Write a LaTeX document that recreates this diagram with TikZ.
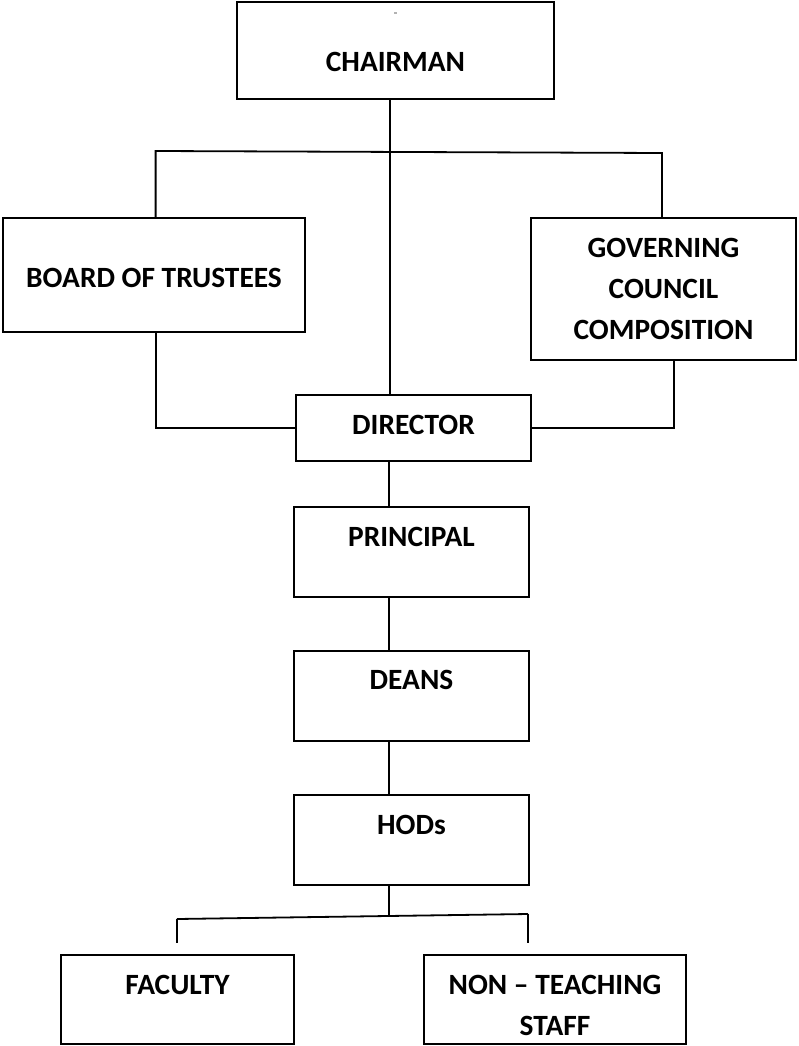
\documentclass[tikz,border=0pt]{standalone}
\usepackage{fontspec}
\setmainfont{Carlito}
\usetikzlibrary{calc}
\tikzset{
  box/.style={draw=black, line width=2.2pt, rectangle, inner sep=0pt, align=center,
    font=\fontsize{29.4}{41}\selectfont\bfseries},
  textplace/.style 2 args={text height=#1, text depth=#2},
  link/.style={draw=black, line width=1.8pt}
}
\begin{document}
\begin{tikzpicture}[x=1pt, y=-1pt]
\useasboundingbox (0,0) rectangle (798,1046);
% boxes
\node[box, textplace={41.7pt}{0pt}, minimum width=317pt, minimum height=97pt] (chair) at (395.5,50.5) {CHAIRMAN};
\node[box, textplace={24.7pt}{0pt}, minimum width=302pt, minimum height=114pt] (board) at (154,275) {BOARD OF TRUSTEES};
\node[box, minimum width=265pt, minimum height=142pt] (gov) at (663.5,289) {GOVERNING\\COUNCIL\\COMPOSITION};
\node[box, textplace={19pt}{6pt}, minimum width=235pt, minimum height=66pt] (dir) at (413.5,428) {DIRECTOR};
\node[box, textplace={19pt}{30pt}, minimum width=235pt, minimum height=90pt] (prin) at (411.5,552) {PRINCIPAL};
\node[box, textplace={19pt}{32pt}, minimum width=235pt, minimum height=90pt] (deans) at (411.5,696) {DEANS};
\node[box, textplace={19pt}{30pt}, minimum width=235pt, minimum height=90pt] (hods) at (411.5,840) {HODs};
\node[box, textplace={19pt}{29pt}, minimum width=233pt, minimum height=89pt] (fac) at (177.5,999.5) {FACULTY};
\node[box, textplace={72pt}{0pt}, minimum width=262pt, minimum height=89pt] (nts) at (555,999.5) {NON -- TEACHING\\STAFF};
% small mark
\fill[gray!60] (394,12) rectangle (396.5,14.5);
% helper coordinates
\coordinate (spine) at (390,0);
\coordinate (bl) at (155.6,151);
\coordinate (br) at (662,153);
\coordinate (gx) at (674,0);
\coordinate (fl) at (177,919);
\coordinate (fr) at (528,914);
\coordinate (fj) at (389,915.5);
% connectors
\draw[link] (chair.south -| spine) -- (dir.north -| spine);
\draw[link] (board.north -| bl) -- (bl) -- (br) -- (gov.north -| br);
\draw[link] (board.south -| bl) |- (dir.west);
\draw[link] (gov.south -| gx) |- (dir.east);
\draw[link] (dir.south -| fj) -- (prin.north -| fj);
\draw[link] (prin.south -| fj) -- (deans.north -| fj);
\draw[link] (deans.south -| fj) -- (hods.north -| fj);
\draw[link] (hods.south -| fj) -- (fj);
\draw[link] (fl) -- (fr);
\draw[link] (fl) -- ($(fac.north -| fl)+(0,-11)$);
\draw[link] (fr) -- ($(nts.north -| fr)+(0,-11)$);
\end{tikzpicture}
\end{document}
